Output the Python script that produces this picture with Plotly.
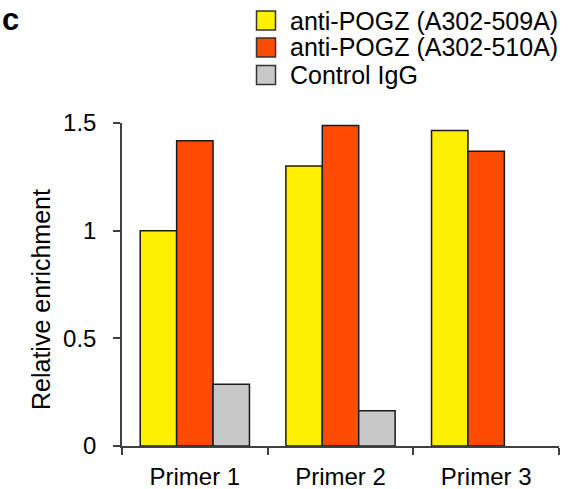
import plotly.graph_objects as go

categories = ["Primer 1", "Primer 2", "Primer 3"]
series_names = ["anti-POGZ (A302-509A)", "anti-POGZ (A302-510A)", "Control IgG"]
values_509A = [1.00, 1.30, 1.465]
values_510A = [1.417, 1.488, 1.369]
values_igg = [0.287, 0.164, None]
series_colors = ["#FFEF00", "#FF4B00", "#C8C8C8"]
y_tick_vals = [0, 0.5, 1, 1.5]
y_tick_text = ["0", "0.5", "1", "1.5"]

FONT = "Arial, Liberation Sans, Helvetica, sans-serif"
W, H = 580, 489
ML, MR, MT, MB = 122, 21, 123, 43
PW, PH = W - ML - MR, H - MT - MB


def px_x(px):
    return (px - ML) / PW


def px_y(py):
    return (H - MB - py) / PH


fig = go.Figure()
for name, vals, col in zip(series_names, [values_509A, values_510A, values_igg], series_colors):
    fig.add_trace(go.Bar(
        x=categories, y=vals, name=name,
        marker=dict(color=col, line=dict(color="#1a1a1a", width=1.5)),
        showlegend=False,
    ))

shapes = []
annotations = []
row_centers = [20.5, 47.5, 75]
for name, col, cy in zip(series_names, series_colors, row_centers):
    shapes.append(dict(
        type="rect", xref="paper", yref="paper",
        x0=px_x(256.5), x1=px_x(275.5), y0=px_y(cy + 9.5), y1=px_y(cy - 9.5),
        fillcolor=col, line=dict(color="#333333", width=1.5), layer="above",
    ))
    annotations.append(dict(
        xref="paper", yref="paper", x=px_x(288), y=px_y(cy),
        xanchor="left", yanchor="middle", showarrow=False,
        text=name, font=dict(family=FONT, size=25, color="#000000"),
    ))

annotations.append(dict(
    xref="paper", yref="paper", x=px_x(41), y=px_y(300),
    xanchor="center", yanchor="middle", showarrow=False, textangle=-90,
    text="Relative enrichment", font=dict(family=FONT, size=25, color="#000000"),
))
annotations.append(dict(
    xref="paper", yref="paper", x=px_x(1), y=px_y(19),
    xanchor="left", yanchor="middle", showarrow=False, borderpad=0,
    text="<b>c</b>", font=dict(family=FONT, size=31, color="#000000"),
))

fig.update_layout(
    width=W, height=H,
    margin=dict(l=ML, r=MR, t=MT, b=MB, pad=0, autoexpand=False),
    paper_bgcolor="white", plot_bgcolor="white",
    barmode="group", bargap=0.25, bargroupgap=0,
    showlegend=False,
    shapes=shapes, annotations=annotations,
    font=dict(family=FONT, size=24, color="#000000"),
)
fig.update_xaxes(
    range=[-0.5, 2.5], showline=True, linecolor="#404040", linewidth=1.5,
    ticks="outside", ticklen=7, tickwidth=1.5, tickcolor="#404040",
    tickson="boundaries", showgrid=False, zeroline=False,
    ticklabelstandoff=8, automargin=False,
    tickfont=dict(family=FONT, size=24, color="#000000"),
)
fig.update_yaxes(
    range=[0, 1.5], showline=True, linecolor="#404040", linewidth=1.5,
    ticks="outside", ticklen=7, tickwidth=1.5, tickcolor="#404040",
    tickvals=y_tick_vals, ticktext=y_tick_text, ticklabelstandoff=12,
    showgrid=False, zeroline=False, automargin=False,
    tickfont=dict(family=FONT, size=24, color="#000000"),
)

fig.write_html(
    "out.html",
    config={"displayModeBar": False},
    post_script="document.body.style.margin='0';document.body.style.overflow='hidden';",
)
